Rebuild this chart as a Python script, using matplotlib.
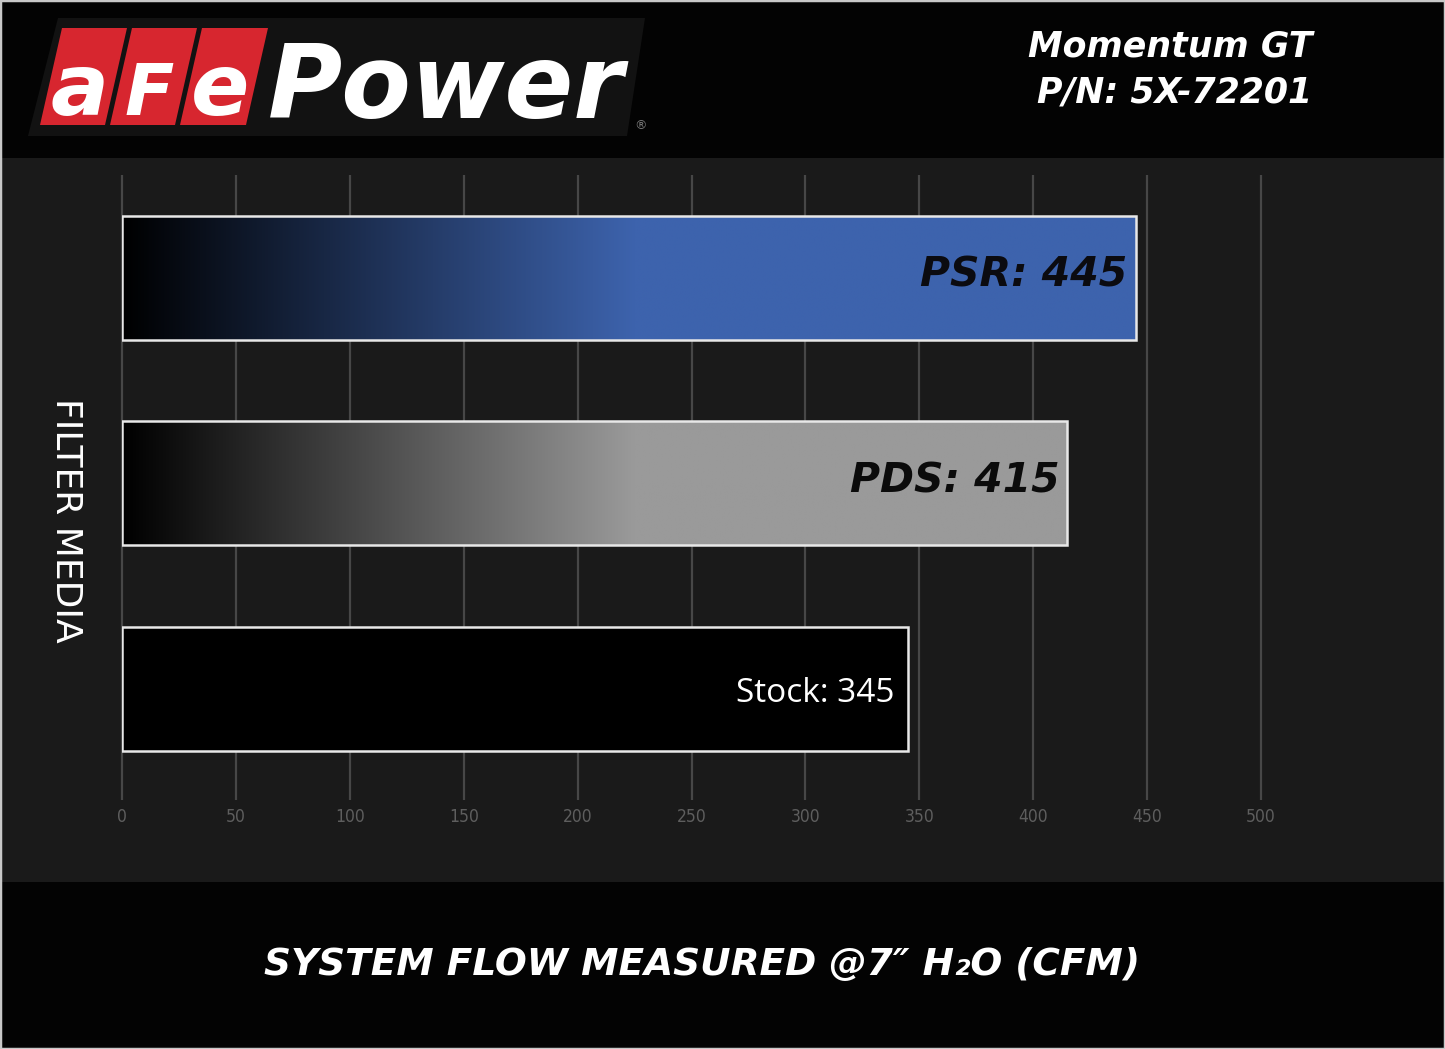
import numpy as np
import matplotlib
matplotlib.use("Agg")
import matplotlib.pyplot as plt
from matplotlib.patches import Rectangle, Polygon
from matplotlib.colors import to_rgb

# ---------------- data ----------------
categories = ["PSR", "PDS", "Stock"]
values = [445, 415, 345]
bar_end_colors = ["#3d63ad", "#9a9a9a", "#000000"]
label_colors = ["#0b0b10", "#0b0b0b", "#ffffff"]
xticks = [0, 50, 100, 150, 200, 250, 300, 350, 400, 450, 500]
title_text = "SYSTEM FLOW MEASURED @7\u2033 H\u2082O (CFM)"
ylabel_text = "FILTER MEDIA"
product_lines = ["Momentum GT", "P/N: 5X-72201"]

W, H = 1445, 1049
fig = plt.figure(figsize=(W / 100, H / 100), dpi=100, facecolor="#030303")

def fx(px):
    return px / W

def fy(py):
    return 1 - py / H

# textured panel (solid approximation)
fig.patches.append(Rectangle((0, fy(882)), 1, (882 - 158) / H, transform=fig.transFigure,
                             facecolor="#1a1a1a", edgecolor="none", zorder=-5))

# ---------------- logo ----------------
backdrop = [(fx(58), fy(18)), (fx(645), fy(18)), (fx(627), fy(136)), (fx(28), fy(136))]
fig.patches.append(Polygon(backdrop, closed=True, transform=fig.transFigure,
                           facecolor="#121212", edgecolor="none", zorder=-4))
boxes = [(62, 127, 40, 105), (132, 197, 110, 175), (202, 268, 180, 246)]
letters = ["a", "F", "e"]
letter_sizes = [62, 52, 62]
for (tl, tr, bl, br), ch, fs in zip(boxes, letters, letter_sizes):
    poly = [(fx(tl), fy(28)), (fx(tr), fy(28)), (fx(br), fy(125)), (fx(bl), fy(125))]
    fig.patches.append(Polygon(poly, closed=True, transform=fig.transFigure,
                               facecolor="#d7262f", edgecolor="none", zorder=-3))
    cx = (tl + tr + bl + br) / 4 - 4
    fig.text(fx(cx), fy(115), ch, ha="center", va="baseline", color="white",
             fontsize=fs, fontweight="bold", fontstyle="oblique", family="DejaVu Sans", zorder=3)
fig.text(fx(268), fy(118), "Power", ha="left", va="baseline", color="white",
         fontsize=73, fontweight="bold", fontstyle="oblique", family="DejaVu Sans", zorder=3)
fig.text(fx(640), fy(126), "\u00ae", ha="center", va="center", color="#777777", fontsize=9, zorder=3)

# product text top right
fig.text(fx(1312), fy(47), product_lines[0], ha="right", va="center", color="white",
         fontsize=25, fontweight="bold", fontstyle="oblique", family="DejaVu Sans")
fig.text(fx(1312), fy(92), product_lines[1], ha="right", va="center", color="white",
         fontsize=25, fontweight="bold", fontstyle="oblique", family="DejaVu Sans")

# ---------------- axes ----------------
ax = fig.add_axes([fx(122), fy(800), fx(1261) - fx(122), (800 - 175) / H])
ax.set_facecolor("none")
ax.set_zorder(2)
for s in ax.spines.values():
    s.set_visible(False)

ypos = np.arange(len(categories))
bar_h = 0.603
ymin, ymax = -0.50, 2.54

ax.vlines(xticks, ymin, ymax, colors="#474747", linewidth=1.6, zorder=1, clip_on=False)

bars = ax.barh(ypos, values, height=bar_h, facecolor="none", edgecolor="#e8e8e8",
               linewidth=1.8, zorder=4)

for bar, v, end in zip(bars, values, bar_end_colors):
    xs = np.linspace(0, v, 600)
    t = np.clip(xs / 225.0, 0, 1)[:, None]
    start = np.array([0.0, 0.0, 0.0])
    rgb = start * (1 - t) + np.array(to_rgb(end)) * t
    y0 = bar.get_y()
    y1 = y0 + bar.get_height()
    im = ax.imshow(rgb[None, :, :], extent=(0, v, y1, y0), aspect="auto",
                   interpolation="bilinear", zorder=3)
    im.set_clip_path(bar)

offsets = [3.5, 3.3, 6.0]
for y, cat, v, col, off in zip(ypos, categories, values, label_colors, offsets):
    txt = f"{cat}: {v}"
    if cat == "Stock":
        ax.text(v - off, y + 0.02, txt, ha="right", va="center", color=col,
                fontsize=24, family="Open Sans", zorder=5)
    else:
        ax.text(v - off, y - 0.01, txt, ha="right", va="center", color=col,
                fontsize=29.5, fontweight="bold", fontstyle="oblique", family="DejaVu Sans", zorder=5)

ax.set_xlim(0, 500)
ax.set_ylim(ymax, ymin)
ax.set_xticks(xticks)
ax.set_xticklabels([str(t) for t in xticks])
ax.set_yticks([])
ax.tick_params(axis="x", length=0, pad=6, labelsize=12.5, labelcolor="#5e5e5e")
for lab in ax.get_xticklabels():
    lab.set_fontstretch("condensed")

# y label
fig.text(fx(66), fy(520), ylabel_text, rotation=270, ha="center", va="center",
         color="white", fontsize=26, family="DejaVu Sans")

# bottom title
fig.text(fx(702), fy(965), title_text, ha="center", va="center", color="white",
         fontsize=27, fontweight="bold", fontstyle="oblique", family="DejaVu Sans")

# outer border
fig.patches.append(Rectangle((0, 0), 1, 1, transform=fig.transFigure, fill=False,
                             edgecolor="#c8c8c8", linewidth=2.5, zorder=10))

fig.savefig("out.png", dpi=100, facecolor=fig.get_facecolor())
